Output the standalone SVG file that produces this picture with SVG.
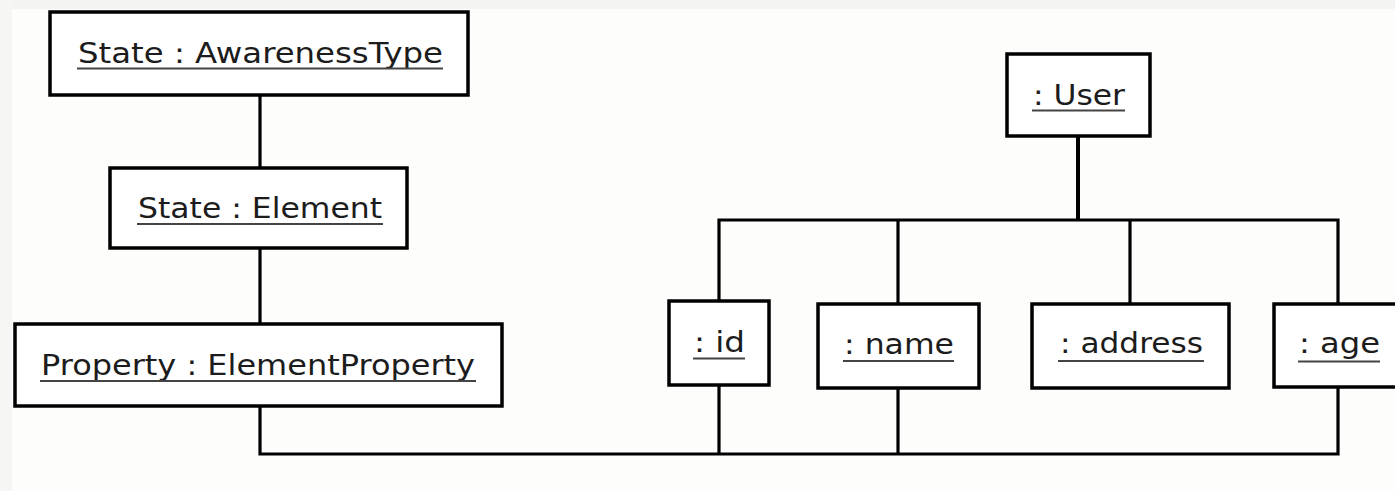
<svg xmlns="http://www.w3.org/2000/svg" width="1395" height="491" viewBox="0 0 1395 491">
<style>
.bg{fill:#fdfdfc}
.box{fill:#ffffff;stroke:#000;stroke-width:3.5}
.lbl{font-family:"DejaVu Sans","Liberation Sans",sans-serif;font-size:28px;fill:#1c1c1c}
.ul{stroke:#444;stroke-width:2}
.con{fill:none;stroke:#000;stroke-width:3.2}
</style>
<rect class="bg" x="0" y="0" width="1395" height="491"/>
<rect x="0" y="0" width="1395" height="9" fill="#f4f4f2"/>
<rect x="0" y="0" width="12" height="491" fill="#f6f6f4"/>
<g id="connectors">
<path class="con" d="M260,95 V168"/>
<path class="con" d="M260,248 V324"/>
<path class="con" d="M260,406 V454 H1338 V388"/>
<path class="con" d="M719,385 V454"/>
<path class="con" d="M898,388 V454"/>
<path class="con" d="M1078,136 V220" style="stroke-width:4"/>
<path class="con" d="M719,301 V220 H1338 V304"/>
<path class="con" d="M898,220 V304"/>
<path class="con" d="M1130,220 V304"/>
</g>
<g id="awarenessType">
<rect class="box" x="50" y="12" width="418" height="83"/>
<text class="lbl" x="78" y="63" textLength="365" lengthAdjust="spacingAndGlyphs">State : AwarenessType</text>
<line class="ul" x1="77" y1="68.5" x2="443" y2="68.5"/>
</g>
<g id="element">
<rect class="box" x="110" y="168" width="297" height="80"/>
<text class="lbl" x="138" y="218" textLength="244" lengthAdjust="spacingAndGlyphs">State : Element</text>
<line class="ul" x1="137" y1="224" x2="383" y2="224"/>
</g>
<g id="property">
<rect class="box" x="15" y="324" width="487" height="82"/>
<text class="lbl" x="41" y="375" textLength="434" lengthAdjust="spacingAndGlyphs">Property : ElementProperty</text>
<line class="ul" x1="40" y1="381" x2="476" y2="381"/>
</g>
<g id="user">
<rect class="box" x="1007" y="54" width="143" height="82"/>
<text class="lbl" x="1033" y="105" textLength="92" lengthAdjust="spacingAndGlyphs">: User</text>
<line class="ul" x1="1032" y1="110.5" x2="1125" y2="110.5"/>
</g>
<g id="id">
<rect class="box" x="669" y="301" width="100" height="84"/>
<text class="lbl" x="694" y="352" textLength="51" lengthAdjust="spacingAndGlyphs">: id</text>
<line class="ul" x1="693" y1="358.5" x2="745" y2="358.5"/>
</g>
<g id="name">
<rect class="box" x="818" y="304" width="161" height="84"/>
<text class="lbl" x="844" y="354" textLength="110" lengthAdjust="spacingAndGlyphs">: name</text>
<line class="ul" x1="843" y1="361" x2="954" y2="361"/>
</g>
<g id="address">
<rect class="box" x="1032" y="304" width="197" height="84"/>
<text class="lbl" x="1060" y="353" textLength="143" lengthAdjust="spacingAndGlyphs">: address</text>
<line class="ul" x1="1058" y1="361" x2="1204" y2="361"/>
</g>
<g id="age">
<rect class="box" x="1274" y="304" width="130" height="83"/>
<text class="lbl" x="1299" y="353" textLength="81" lengthAdjust="spacingAndGlyphs">: age</text>
<line class="ul" x1="1298" y1="361.5" x2="1380" y2="361.5"/>
</g>
</svg>
